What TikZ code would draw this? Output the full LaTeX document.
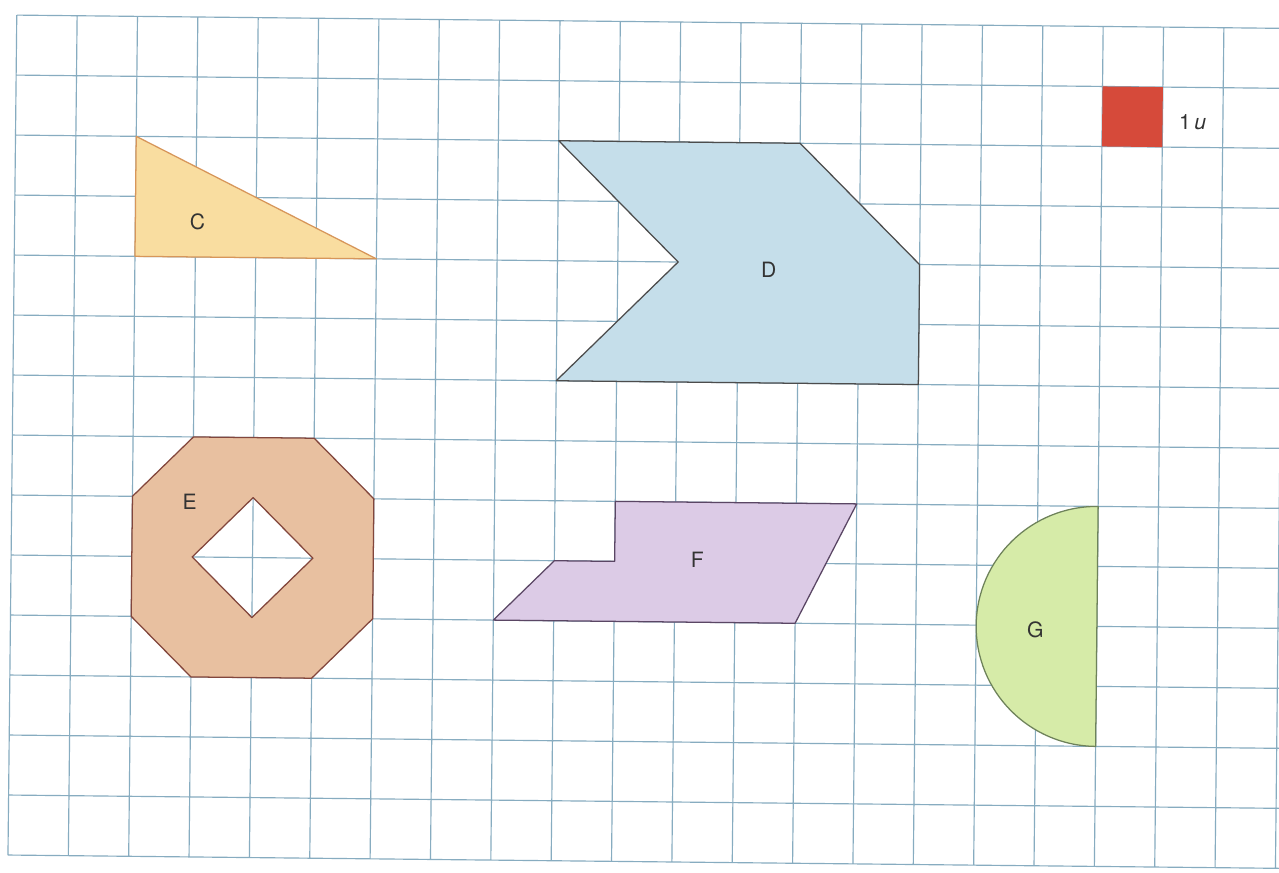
\documentclass[tikz,border=0pt]{standalone}
\usepackage{fontspec}
\setmainfont{TeX Gyre Heros}
\definecolor{gridblue}{RGB}{135,172,192}
\definecolor{fillC}{RGB}{249,221,160}
\definecolor{lineC}{RGB}{215,150,90}
\definecolor{fillD}{RGB}{197,222,234}
\definecolor{fillE}{RGB}{232,192,160}
\definecolor{lineE}{RGB}{130,70,60}
\definecolor{fillF}{RGB}{220,203,230}
\definecolor{lineF}{RGB}{90,70,100}
\definecolor{fillG}{RGB}{214,235,168}
\definecolor{lineG}{RGB}{110,130,90}
\definecolor{unitred}{RGB}{214,74,58}
\begin{document}
\begin{tikzpicture}[gridline/.style={draw=gridblue,line width=0.55pt},
                    figure/.style={line width=0.6pt,line join=round}]
\useasboundingbox[fill=white] (-0.133,-0.283) rectangle (21.183,14.25);
\clip (-0.133,-0.283) rectangle (21.183,14.25);

\begin{scope}[rotate=-0.6, xscale=1.006]
\draw[gridline] (0,0) grid (21.4,14);

% figures
\filldraw[figure, fill=fillC, draw=lineC] (2,12) -- (2,10) -- (6,10) -- cycle;
\filldraw[figure, fill=fillD, draw=black!70] (9,12) -- (13,12) -- (15,10) -- (15,8) -- (9,8) -- (11,10) -- cycle;
\filldraw[figure, fill=fillE, draw=lineE, even odd rule]
    (3,7) -- (5,7) -- (6,6) -- (6,4) -- (5,3) -- (3,3) -- (2,4) -- (2,6) -- cycle
    (4,6) -- (5,5) -- (4,4) -- (3,5) -- cycle;
\filldraw[figure, fill=fillF, draw=lineF] (10,6) -- (14,6) -- (13,4) -- (8,4) -- (9,5) -- (10,5) -- cycle;
\filldraw[figure, fill=fillG, draw=lineG] (18,6) arc (90:270:2) -- cycle;
\fill[unitred] (18,12) rectangle (19,13);

\begin{scope}[every node/.style={inner sep=1pt,text=black!80}]
    \node (labelC) at (3.03,10.58) {C};
    \node (labelD) at (12.5,9.88) {D};
    \node (labelE) at (2.95,5.92) {E};
    \node (labelF) at (11.37,5.04) {F};
    \node (labelG) at (16.98,3.93) {G};
    \node (unit) at (19.5,12.42) {1\,\textit{u}};
\end{scope}
\end{scope}
\end{tikzpicture}
\end{document}
